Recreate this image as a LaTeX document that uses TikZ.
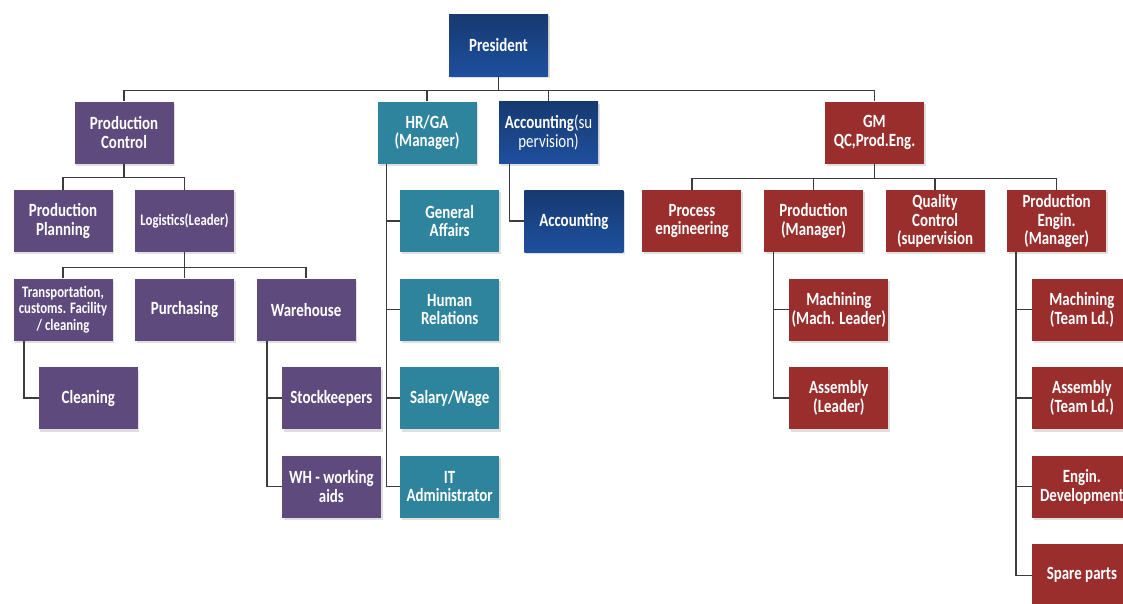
\documentclass[tikz,border=0pt]{standalone}
\usepackage{fontspec}
\setmainfont{Carlito}[FakeStretch=0.8]
\usetikzlibrary{positioning,shadows}

\definecolor{plum}{HTML}{5F4A7E}
\definecolor{hrteal}{HTML}{2F849D}
\definecolor{navytop}{HTML}{163A70}
\definecolor{navybot}{HTML}{1E4F9E}
\definecolor{gmred}{HTML}{9A2E2D}
\definecolor{linegray}{HTML}{3C3C3C}

\begin{document}
\begin{tikzpicture}[x=0.75pt, y=-0.75pt, node distance=19.5pt and 16.5pt,
  every node/.style={minimum width=74.25pt, minimum height=46.5pt, inner sep=1pt,
    align=center, text=white, font=\bfseries\fontsize{14}{14}\selectfont,
    drop shadow={opacity=0.25, shadow xshift=1.2pt, shadow yshift=-1.8pt}},
  prod/.style={fill=plum},
  hrs/.style={fill=hrteal},
  fin/.style={top color=navytop, bottom color=navybot},
  qual/.style={fill=gmred},
  tight/.style={font=\bfseries\fontsize{12}{12.5}\selectfont},
  link/.style={draw=linegray, line width=1pt}]
\clip (0,0) rectangle (1123,603);

% top level
\node[fin] (pres) at (498.5,45) {President};
\node[prod] (pc) at (124,132.5) {Production\\Control};
\node[hrs] (hr) at (427,132.5) {HR/GA\\(Manager)};
\node[fin] (acs) [right=of hr] {Accounting{\mdseries(su}\\{\mdseries pervision)}};
\node[qual] (gm) at (874.5,132.5) {GM\\QC,Prod.Eng.};

% production control
\node[prod] (pp) [below=of pc, xshift=-45.75pt] {Production\\Planning};
\node[prod, tight] (log) [right=of pp] {Logistics(Leader)};
\node[prod] (pur) [below=of log] {Purchasing};
\node[prod, tight] (trans) [left=of pur] {Transportation,\\customs. Facility\\/ cleaning};
\node[prod] (wh) [right=of pur] {Warehouse};
\node[prod] (clean) [below=of trans, xshift=19pt] {Cleaning};
\node[prod] (stock) [below=of wh, xshift=19pt] {Stockkeepers};
\node[prod] (wha) [below=of stock] {WH - working\\aids};

% hr/ga
\node[hrs] (ga) [below=of hr, xshift=17pt] {General\\Affairs};
\node[hrs] (hrel) [below=of ga] {Human\\Relations};
\node[hrs] (sal) [below=of hrel] {Salary/Wage};
\node[hrs] (it) [below=of sal] {IT\\Administrator};

% accounting
\node[fin] (acc) [below=of acs, xshift=19pt] {Accounting};

% gm
\node[qual] (pm) [below=of gm, xshift=-45.75pt] {Production\\(Manager)};
\node[qual] (pe) [left=of pm] {Process\\engineering};
\node[qual] (qc) [right=of pm] {Quality\\Control\\(supervision};
\node[qual] (pen) [right=of qc] {Production\\Engin.\\(Manager)};
\node[qual] (mach) [below=of pm, xshift=19pt] {Machining\\(Mach. Leader)};
\node[qual] (asm) [below=of mach] {Assembly\\(Leader)};
\node[qual] (mtl) [below=of pen, xshift=19pt] {Machining\\(Team Ld.)};
\node[qual] (atl) [below=of mtl] {Assembly\\(Team Ld.)};
\node[qual] (edev) [below=of atl] {Engin.\\Development};
\node[qual] (spare) [below=of edev] {Spare parts};

% links
\foreach \k in {pc,hr,acs,gm} \draw[link] (pres.south) -- ++(0,14) -| (\k.north);
\foreach \k in {pp,log} \draw[link] (pc.south) -- ++(0,14) -| (\k.north);
\foreach \k in {trans,pur,wh} \draw[link] (log.south) -- ++(0,15) -| (\k.north);
\foreach \k in {pe,pm,qc,pen} \draw[link] (gm.south) -- ++(0,15) -| (\k.north);
\draw[link] ([xshift=8pt]trans.south west) |- (clean.west);
\foreach \k in {stock,wha} \draw[link] ([xshift=8pt]wh.south west) |- (\k.west);
\foreach \k in {ga,hrel,sal,it} \draw[link] ([xshift=7pt]hr.south west) |- (\k.west);
\draw[link] ([xshift=8pt]acs.south west) |- (acc.west);
\foreach \k in {mach,asm} \draw[link] ([xshift=7.5pt]pm.south west) |- (\k.west);
\foreach \k in {mtl,atl,edev,spare} \draw[link] ([xshift=7pt]pen.south west) |- (\k.west);
\end{tikzpicture}
\end{document}
